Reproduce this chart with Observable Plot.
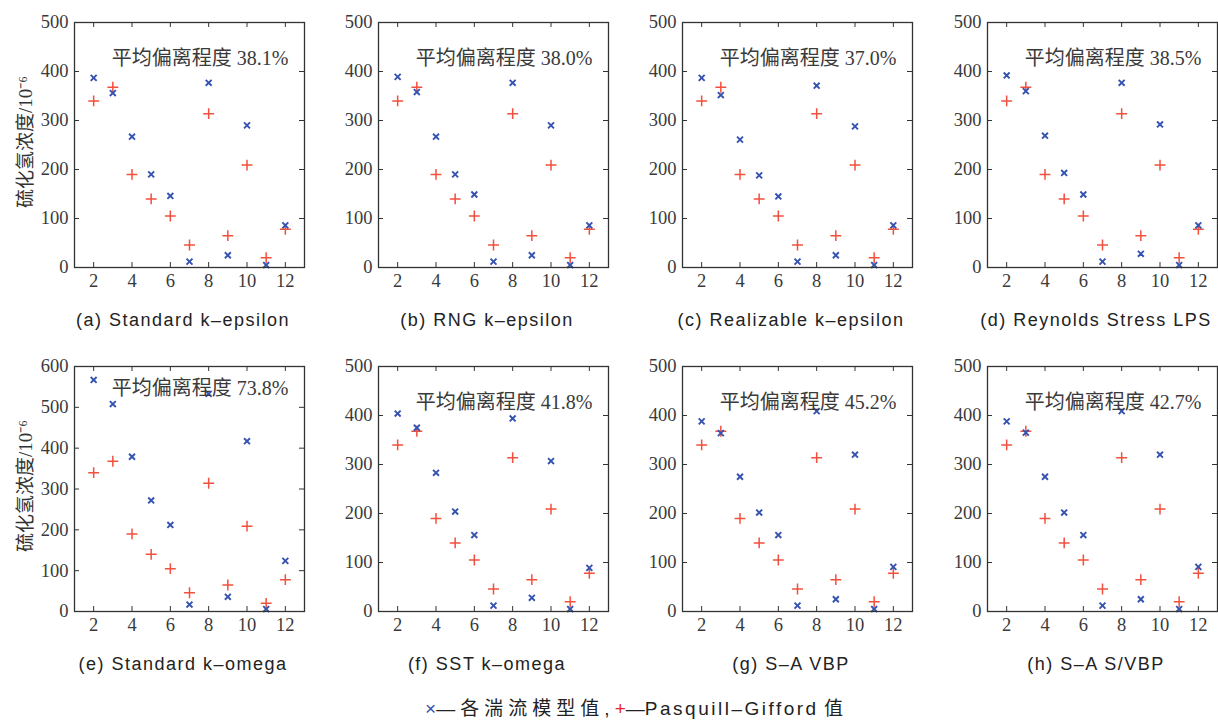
<!DOCTYPE html>
<html>
<head>
<meta charset="utf-8">
<script src="https://cdn.jsdelivr.net/npm/d3@7"></script>
<script src="https://cdn.jsdelivr.net/npm/@observablehq/plot@0.6"></script>
<style>
  html, body { margin: 0; padding: 0; background: #fff; }
  #root { position: relative; width: 1218px; height: 722px; overflow: hidden; background: #fff; }
  .panel { position: absolute; overflow: visible; }
  .plabel { position: absolute; width: 300px; text-align: center; font-family: "Liberation Sans", Arial, sans-serif; font-size: 18px; color: #222; letter-spacing: 1.5px; white-space: nowrap; line-height: 22px; }
  #legend { position: absolute; left: 25px; width: 1218px; top: 697px; line-height: 24px; text-align: center; font-family: "Liberation Sans", "Noto Sans CJK SC", sans-serif; font-size: 19px; color: #222; white-space: nowrap; }
  #legend .cjk { letter-spacing: 5px; }
  #legend .lat { letter-spacing: 2.5px; }
</style>
</head>
<body>
<div id="root"></div>
<script>
// ---- data ----
const positions = [2, 3, 4, 5, 6, 7, 8, 9, 10, 11, 12];
const pasquillGifford = [340, 368, 190, 140, 105, 46, 314, 65, 209, 20, 78];
const standardKEpsilon = [387, 356, 267, 190, 146, 12, 377, 25, 290, 5, 86];
const rngKEpsilon = [389, 358, 267, 190, 149, 12, 377, 25, 290, 5, 86];
const realizableKEpsilon = [387, 352, 261, 188, 145, 12, 371, 25, 288, 5, 86];
const reynoldsStressLPS = [392, 360, 269, 193, 149, 12, 377, 28, 292, 5, 86];
const standardKOmega = [567, 508, 379, 272, 212, 17, 533, 36, 417, 6, 124];
const sstKOmega = [404, 375, 283, 204, 156, 12, 394, 28, 307, 5, 89];
const saVBP = [388, 364, 275, 202, 156, 12, 409, 25, 320, 5, 91];
const saSVBP = [388, 365, 275, 202, 156, 12, 409, 25, 320, 5, 91];
const panelLabels = ["(a) Standard k\u2013epsilon", "(b) RNG k\u2013epsilon", "(c) Realizable k\u2013epsilon", "(d) Reynolds Stress LPS",
                     "(e) Standard k\u2013omega", "(f) SST k\u2013omega", "(g) S\u2013A VBP", "(h) S\u2013A S/VBP"];
const deviations = ["38.1%", "38.0%", "37.0%", "38.5%", "73.8%", "41.8%", "45.2%", "42.7%"];
const yMaxes = [500, 500, 500, 500, 600, 500, 500, 500];
const xTicks = [2, 4, 6, 8, 10, 12];
const deviationPrefix = "平均偏离程度 ";
const yLabelText = "硫化氢浓度/10\u207B\u2076";
const legendModel = "—各湍流模型值";
const legendPG = "Pasquill\u2013Gifford";
const modelSeries = [standardKEpsilon, rngKEpsilon, realizableKEpsilon, reynoldsStressLPS,
                     standardKOmega, sstKOmega, saVBP, saSVBP];

// ---- style ----
const BLUE = "#3552b0";
const RED = "#f2503c";
const FRAME_W = 230, FRAME_H = 245;
const ML = 52, MR = 8, MT = 10, MB = 30;
const frameLefts = [74, 378, 682, 987];
const frameTops = [22, 366];
const serif = "Liberation Serif, Noto Sans CJK SC, serif";

const root = document.getElementById("root");

modelSeries.forEach((series, i) => {
  const row = Math.floor(i / 4), col = i % 4;
  const yMax = yMaxes[i];
  const yTicks = d3.range(0, yMax + 1, 100);
  const pg = positions.map((p, j) => ({x: p, y: pasquillGifford[j]}));
  const md = positions.map((p, j) => ({x: p, y: series[j]}));
  const tk = 5;
  const marks = [
    Plot.axisY(yTicks, {tickSize: 0, tickPadding: 6, fontSize: 18.5, fontFamily: serif, fill: "#3a3a3a", label: null}),
    Plot.axisX(xTicks, {tickSize: 0, tickPadding: 6, fontSize: 18.5, fontFamily: serif, fill: "#3a3a3a", label: null}),
    Plot.tickY(yTicks, {y: d => d, insetRight: FRAME_W - tk, stroke: "#333"}),
    Plot.tickY(yTicks, {y: d => d, insetLeft: FRAME_W - tk, stroke: "#333"}),
    Plot.tickX(xTicks, {x: d => d, insetTop: FRAME_H - tk, stroke: "#333"}),
    Plot.tickX(xTicks, {x: d => d, insetBottom: FRAME_H - tk, stroke: "#333"}),
    Plot.dot(pg, {x: "x", y: "y", symbol: "plus", r: 3.6, stroke: RED, strokeWidth: 1.5}),
    Plot.dot(md, {x: "x", y: "y", symbol: "times", r: 2.8, stroke: BLUE, strokeWidth: 1.9}),
    Plot.text([deviationPrefix + deviations[i]], {frameAnchor: "top-right", text: d => d, textAnchor: "end",
      dx: -16, dy: i === 4 ? 14 : 28, fontSize: 20, fontFamily: serif, fill: "#3a3a3a"}),
    Plot.frame({stroke: "#333", strokeWidth: 1.3})
  ];
  if (col === 0) {
    marks.push(Plot.text([yLabelText], {frameAnchor: "left", text: d => d, rotate: -90, textAnchor: "middle",
      dx: -49, dy: -3, fontSize: 19, fontFamily: serif, fill: "#333"}));
  }
  const chart = Plot.plot({
    width: ML + FRAME_W + MR,
    height: MT + FRAME_H + MB,
    marginLeft: ML, marginRight: MR, marginTop: MT, marginBottom: MB,
    style: {background: "transparent", fontFamily: serif, color: "#333", overflow: "visible"},
    x: {domain: [1, 13]},
    y: {domain: [0, yMax]},
    marks
  });
  chart.classList.add("panel");
  chart.style.left = (frameLefts[col] - ML) + "px";
  chart.style.top = (frameTops[row] - MT) + "px";
  root.appendChild(chart);

  const lab = document.createElement("div");
  lab.className = "plabel";
  lab.textContent = panelLabels[i];
  lab.style.left = (frameLefts[col] + FRAME_W / 2 - 6 - 150) + "px";
  lab.style.top = (frameTops[row] + FRAME_H + 42) + "px";
  root.appendChild(lab);
});

const legend = document.createElement("div");
legend.id = "legend";
legend.innerHTML = `<span style="color:${BLUE}">×</span><span class="cjk">${legendModel}</span>, <span style="color:#e8262a">+</span>—<span class="lat">${legendPG}</span> 值`;
root.appendChild(legend);
</script>
</body>
</html>
